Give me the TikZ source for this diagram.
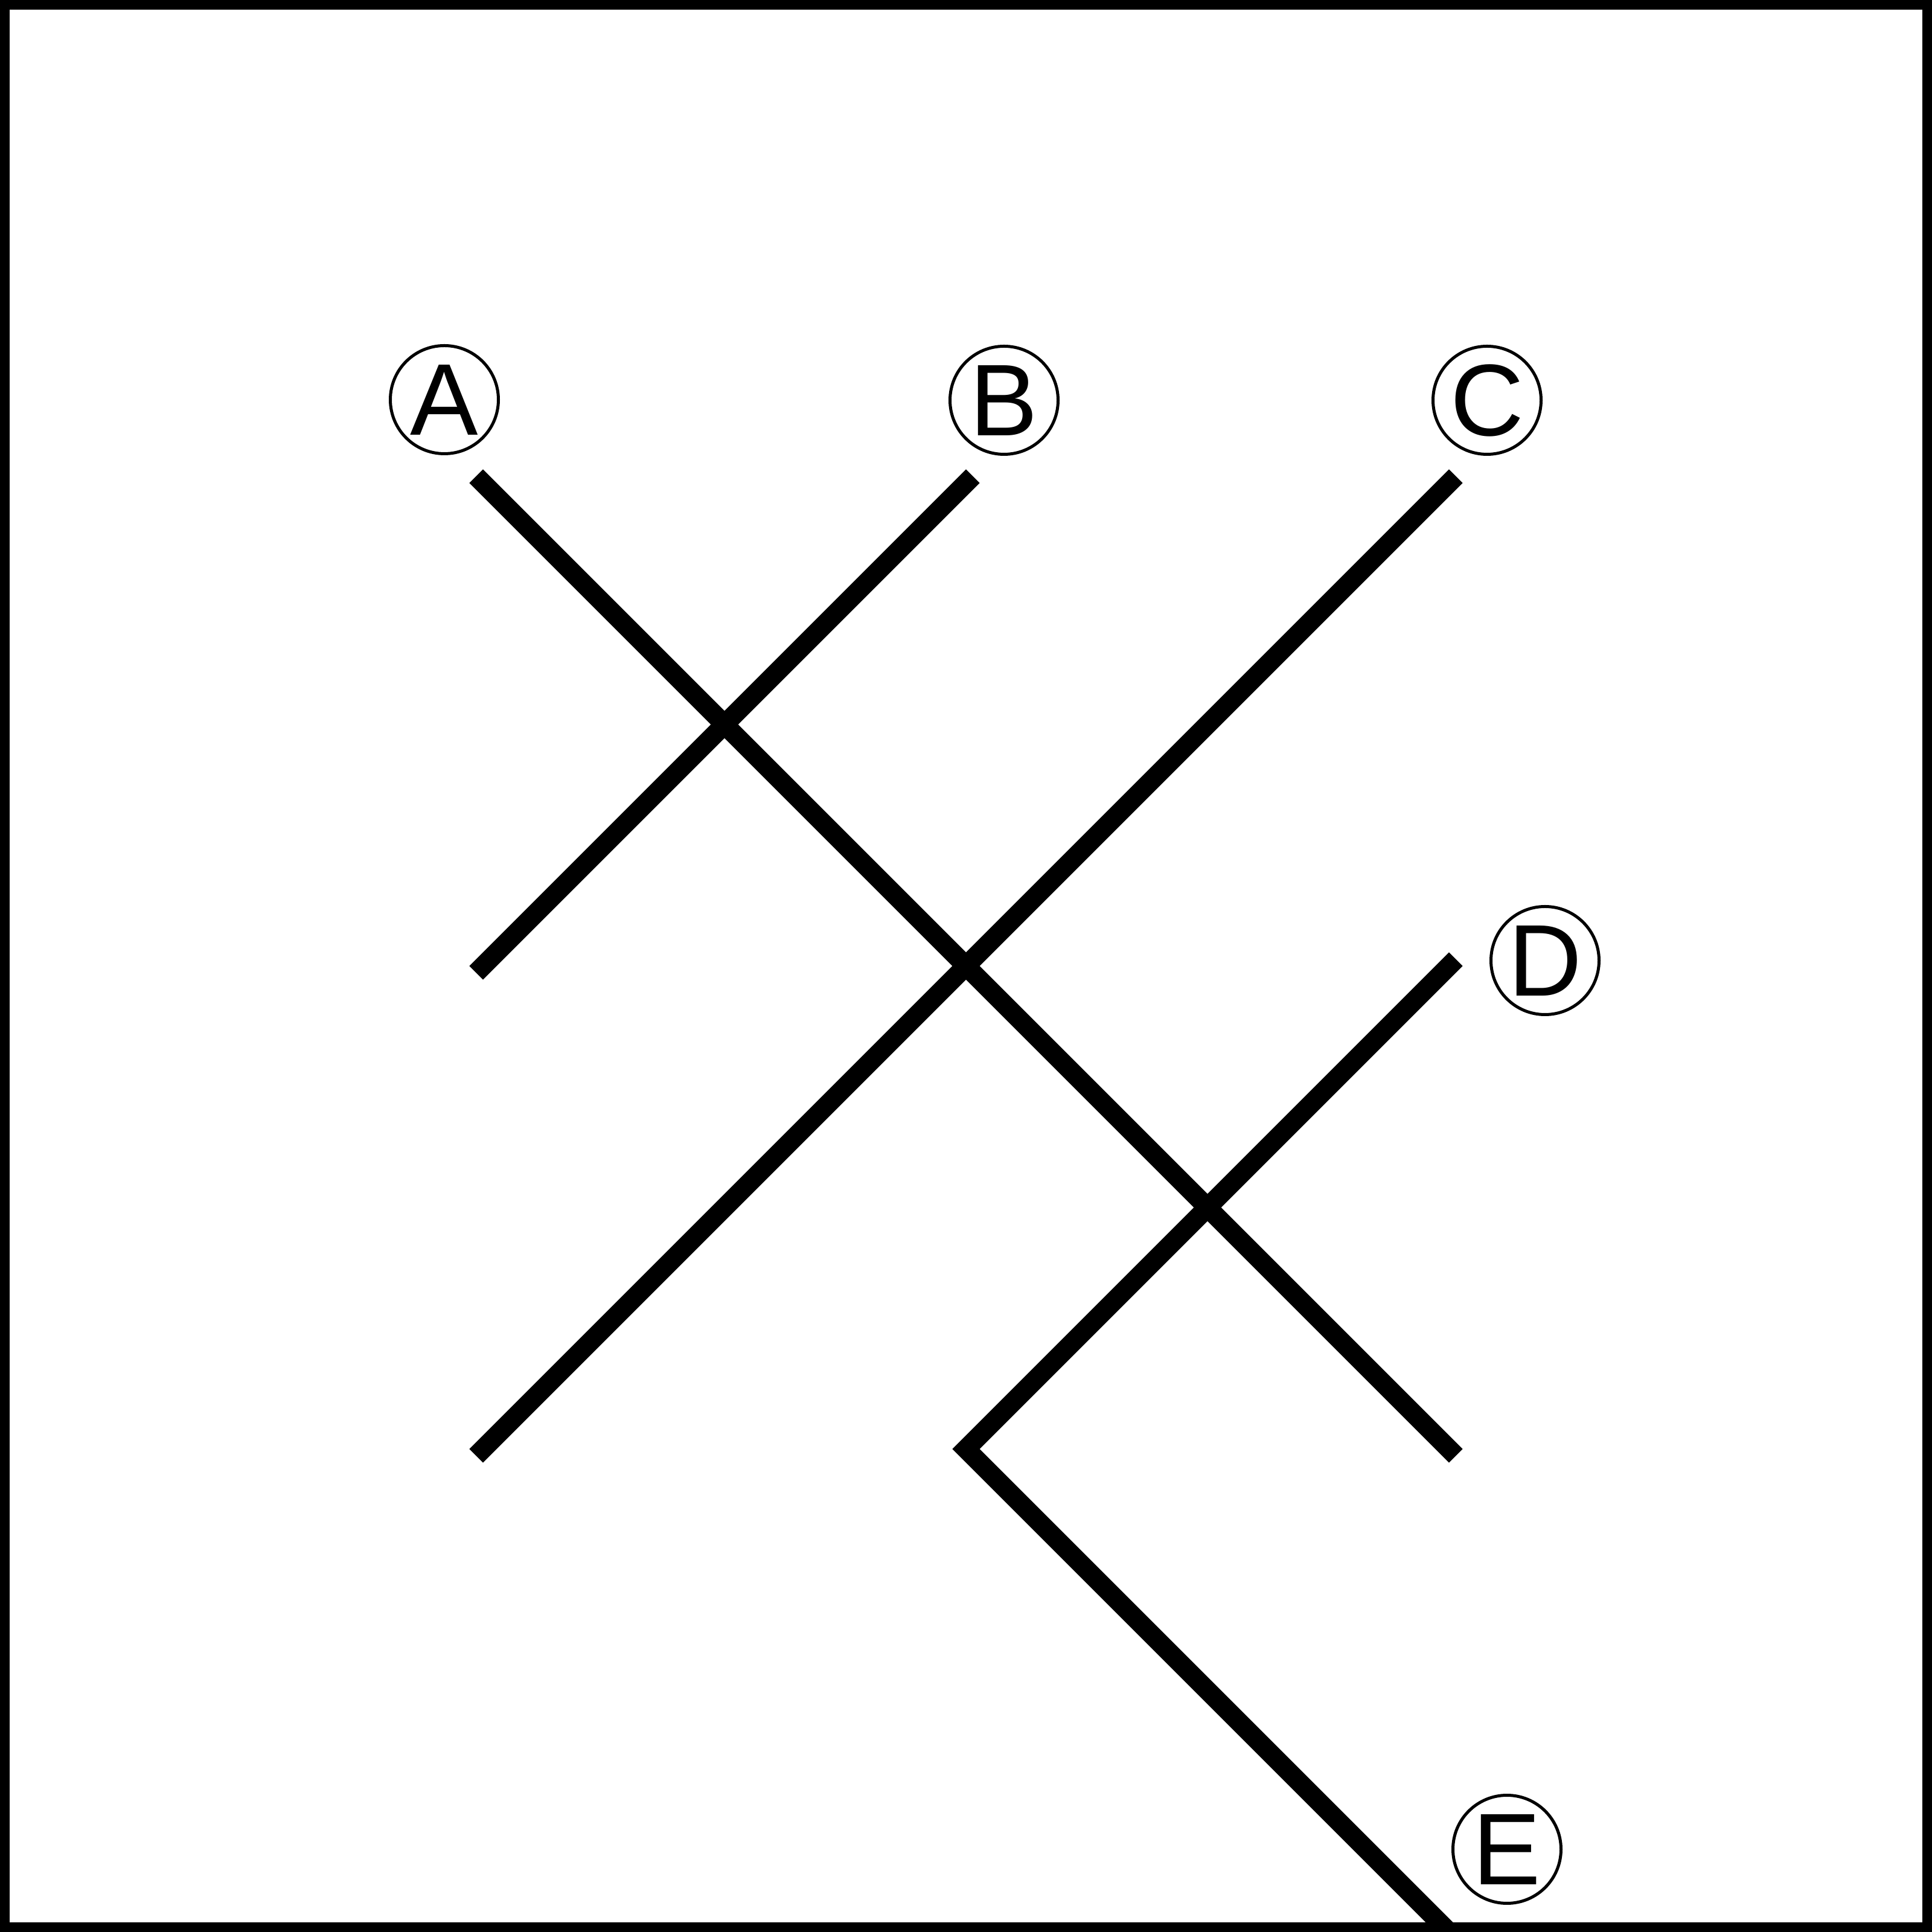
\documentclass[tikz,border=0pt]{standalone}
\usepackage{fontspec}
\setmainfont{Liberation Sans}
\begin{document}
\begin{tikzpicture}[
  tag/.style={circle,draw,line width=0.05cm,minimum size=1.79cm,inner sep=0pt,
    font=\fontsize{48}{48}\selectfont},
  track/.style={line width=0.32cm,line cap=rect,miter limit=10}]
  % bounding box / frame
  \useasboundingbox (0,0) rectangle (32,32);

  % line ends
  \coordinate (a1) at (8,24);
  \coordinate (a2) at (24,8);
  \coordinate (b1) at (16,24);
  \coordinate (b2) at (8,16);
  \coordinate (c1) at (24,24);
  \coordinate (c2) at (8,8);
  \coordinate (d1) at (24,16);
  \coordinate (d2) at (16,8);
  \coordinate (e1) at (24,0);

  % lines
  \begin{scope}
    \clip (0,0) rectangle (32,32);
    \draw[track] (a1) -- (a2);
    \draw[track] (b1) -- (b2);
    \draw[track] (c1) -- (c2);
    \draw[track] (d1) -- (d2) -- (e1);
  \end{scope}

  \draw[line width=0.16cm] (0.08,0.08) rectangle (31.92,31.92);

  % labels
  \node[tag] (la) at (7.36,25.38) {A};
  \node[tag] (lb) at (16.63,25.37) {B};
  \node[tag] (lc) at (24.63,25.37) {C};
  \node[tag] (ld) at (25.59,16.09) {D};
  \node[tag] (le) at (24.96,1.37) {E};
\end{tikzpicture}
\end{document}
